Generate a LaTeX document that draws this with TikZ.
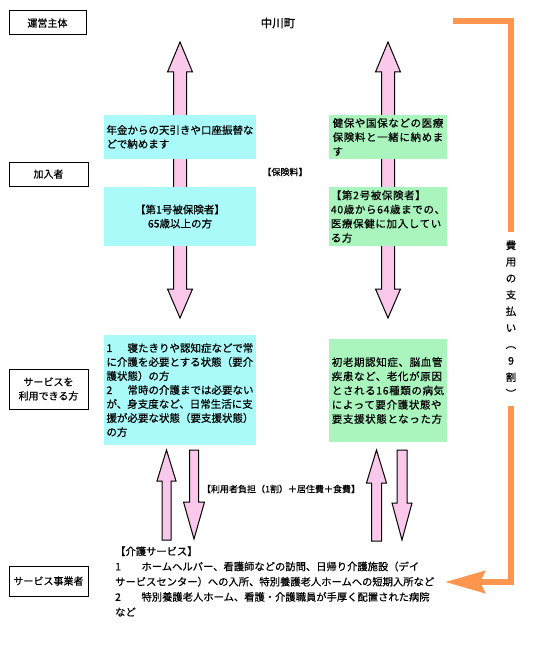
\documentclass[tikz,border=0pt]{standalone}
\usepackage{fontspec}
\setmainfont{Noto Sans CJK JP}[FakeBold=0.5]
\usetikzlibrary{arrows.meta}
\definecolor{cyanbox}{RGB}{170,250,250}
\definecolor{greenbox}{RGB}{170,245,190}
\definecolor{pinkarrow}{RGB}{250,200,235}
\definecolor{orangeline}{RGB}{255,150,80}
% block arrow: x, tip y, tail y, shaft half width, head half width, head length (signed)
\newcommand{\blockarr}[6]{%
  \draw[parrow] (#1,#2) -- ({#1+#5},{#2+#6}) -- ({#1+#4},{#2+#6}) -- ({#1+#4},#3)
    -- ({#1-#4},#3) -- ({#1-#4},{#2+#6}) -- ({#1-#5},{#2+#6}) -- cycle;}
% double block arrow: x, top tip, bottom tip
\newcommand{\dblarr}[3]{%
  \draw[parrow] (#1,#2) -- ({#1+12.5},{#2+30}) -- ({#1+6.5},{#2+30}) -- ({#1+6.5},{#3-29})
    -- ({#1+12.5},{#3-29}) -- (#1,#3) -- ({#1-12.5},{#3-29}) -- ({#1-6.5},{#3-29})
    -- ({#1-6.5},{#2+30}) -- ({#1-12.5},{#2+30}) -- cycle;}
\begin{document}
\begin{tikzpicture}[x=1pt,y=-1pt,
  lbl/.style={draw=black, line width=1pt, inner sep=0pt, align=center,
    font=\fontsize{10}{14}\selectfont},
  cbox/.style={fill=cyanbox, inner sep=0pt, font=\fontsize{10.5}{14}\selectfont},
  gbox/.style={fill=greenbox, inner sep=0pt,
    font=\fontsize{10.5}{14.2}\selectfont\addfontfeature{LetterSpace=6}},
  parrow/.style={fill=pinkarrow, draw=black, line width=1pt, line join=miter},
  oline/.style={draw=orangeline, line width=6pt, line join=miter},
  small/.style={inner sep=0pt, font=\fontsize{9}{11}\selectfont},
  plain/.style={inner sep=0pt, font=\fontsize{10.3}{15.2}\selectfont, align=left}
]
\useasboundingbox[fill=white] (0,0) rectangle (536,650);

% left labels
\node[lbl, minimum width=77pt, minimum height=24pt] (l1) at (47.5,23) {運営主体};
\node[lbl, minimum width=79pt, minimum height=24pt] (l2) at (48.5,174) {加入者};
\node[lbl, minimum width=79pt, minimum height=40pt] (l3) at (48.5,389) {サービスを\\利用できる方};
\node[lbl, minimum width=79pt, minimum height=30pt] (l4) at (48.5,581) {サービス事業者};

% title
\node[inner sep=0pt, font=\fontsize{11.5}{13}\selectfont\addfontfeature{FakeBold=1.2}] (town) at (278,23) {中川町};

% big double arrows
\dblarr{180}{42}{318}
\dblarr{388}{42}{318}

% left (cyan) boxes
\node[cbox, minimum width=152pt, minimum height=44pt, align=left] (c1) at (180,137)
  {年金からの天引きや口座振替な\\どで納めます};
\node[cbox, minimum width=152pt, minimum height=59pt, align=center] (c2) at (180,216.5)
  {【第1号被保険者】\\65歳以上の方};
\node[cbox, minimum width=152pt, minimum height=110pt, align=left] (c3) at (180,390)
  {1\hspace{1.45em}寝たきりや認知症などで常\\に介護を必要とする状態（要介\\護状態）の方\\2\hspace{1.45em}常時の介護までは必要ない\\が、身支度など、日常生活に支\\援が必要な状態（要支援状態）\\の方};

% right (green) boxes
\node[gbox, minimum width=118pt, minimum height=44pt, align=left] (g1) at (388,137)
  {健保や国保などの医療\\保険料と一緒に納めま\\す};
\node[gbox, minimum width=118pt, minimum height=59pt, align=left] (g2) at (388,216.5)
  {【第2号被保険者】\\40歳から64歳までの、\\医療保健に加入してい\\る方};
\node[gbox, minimum width=118pt, minimum height=103pt, align=left] (g3) at (388,390.5)
  {初老期認知症、脳血管\\疾患など、老化が原因\\とされる16種類の病気\\によって要介護状態や\\要支援状態となった方};

% small labels
\node[small] (fee) at (285,172) {【保険料】};
\node[small] (cost) at (281,489) {【利用者負担（1割）＋居住費＋食費】};

% bottom arrows
\blockarr{166.5}{450}{540}{4.5}{9.5}{31}
\blockarr{194}{539}{450}{4.5}{10.5}{-37}
\blockarr{376.5}{450}{541}{5}{10}{33}
\blockarr{402}{540}{450}{5}{10}{-37}

% services text
\node[plain, anchor=west] (svc) at (115,581.5)
  {【介護サービス】\\1\hspace{2em}ホームヘルパー、看護師などの訪問、日帰り介護施設（デイ\\サービスセンター）への入所、特別養護老人ホームへの短期入所など\\2\hspace{2em}特別養護老人ホーム、看護・介護職員が手厚く配置された病院\\など};

% orange payment line
\coordinate (ostart) at (453,21);
\coordinate (otip) at (445,582);
\node[inner sep=0pt, align=center, font=\fontsize{10.5}{16.5}\selectfont] (pay) at (511,319)
  {費\\用\\の\\支\\払\\い\\︵\\9\\割\\︶};
\draw[oline] (ostart) -| ([yshift=8pt]pay.north);
\draw[oline, -{Stealth[length=40pt, width=22pt, inset=5pt]}] ([yshift=-8pt]pay.south) |- (otip);
\end{tikzpicture}
\end{document}
